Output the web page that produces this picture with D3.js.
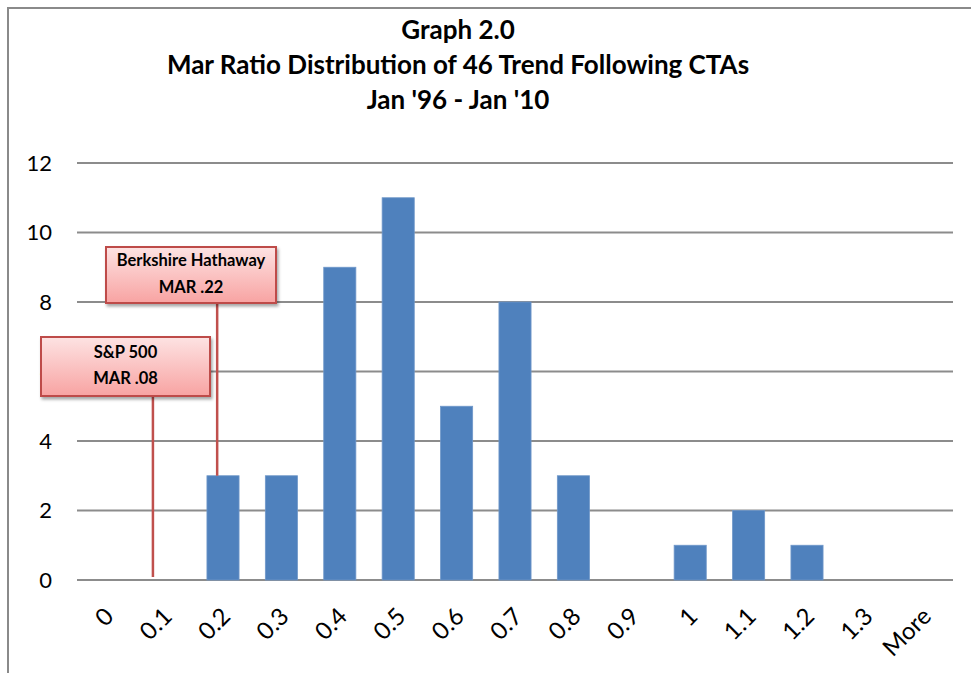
<!DOCTYPE html>
<html>
<head>
<meta charset="utf-8">
<script src="https://cdn.jsdelivr.net/npm/d3@7"></script>
<style>
  body { margin: 0; background: #fff; }
  text { font-family: Lato, "Open Sans", sans-serif; }
</style>
</head>
<body>
<div id="chart"></div>
<script>
const width = 971, height = 673;

// chart data
const categories = ["0", "0.1", "0.2", "0.3", "0.4", "0.5", "0.6", "0.7", "0.8", "0.9", "1", "1.1", "1.2", "1.3", "More"];
const counts = [0, 0, 3, 3, 9, 11, 5, 8, 3, 0, 1, 2, 1, 0, 0];
const yTicks = [0, 2, 4, 6, 8, 10, 12];
const titleLines = ["Graph 2.0", "Mar Ratio Distribution of 46 Trend Following CTAs", "Jan '96 - Jan '10"];

// callouts: pointer is the MAR position on the category axis, target the count it points at
const callouts = [
	{ lines: ["Berkshire Hathaway", "MAR .22"], pointer: 0.19, target: 3 },
	{ lines: ["S&P 500", "MAR .08"], pointer: 0.08, target: 0 }
];

const margin = { top: 163, right: 18, bottom: 93, left: 77 };

const svg = d3.select("#chart")
	.append("svg")
	.attr("width", width)
	.attr("height", height);

const defs = svg.append("defs");

const grad = defs.append("linearGradient")
	.attr("id", "boxGrad")
	.attr("x1", 0).attr("y1", 0).attr("x2", 0).attr("y2", 1);
grad.append("stop").attr("offset", "0%").attr("stop-color", "#fde3e3");
grad.append("stop").attr("offset", "100%").attr("stop-color", "#f8a3a2");

const shadow = defs.append("filter")
	.attr("id", "shadow")
	.attr("x", "-10%").attr("y", "-10%")
	.attr("width", "130%").attr("height", "140%");
shadow.append("feDropShadow")
	.attr("dx", 1.5).attr("dy", 2.5)
	.attr("stdDeviation", 1.5)
	.attr("flood-color", "#000")
	.attr("flood-opacity", 0.35);

// outer frame (cropped at right and bottom like the source)
svg.append("rect")
	.attr("x", 8).attr("y", 8)
	.attr("width", 1000).attr("height", 700)
	.attr("fill", "none")
	.attr("stroke", "#8a8a8a")
	.attr("stroke-width", 2);

const x = d3.scaleBand()
	.domain(categories)
	.range([margin.left, width - margin.right])
	.paddingInner(0.45)
	.paddingOuter(0.225);

const y = d3.scaleLinear()
	.domain([0, 12])
	.range([height - margin.bottom, margin.top]);

// maps a MAR value onto the category axis (0 -> centre of "0", 0.1 -> centre of "0.1")
const step = x.step();
const marX = v => x("0") + x.bandwidth() / 2 + (v / 0.1) * step;

// title
svg.append("g")
	.selectAll("text")
	.data(titleLines)
	.enter()
	.append("text")
	.attr("x", 458)
	.attr("y", (d, i) => 39 + i * 35)
	.attr("text-anchor", "middle")
	.attr("font-size", 26)
	.attr("font-weight", "bold")
	.attr("fill", "#000")
	.text(d => d);

// gridlines
const gridX0 = margin.left, gridX1 = width - margin.right;
svg.append("g")
	.selectAll("line")
	.data(yTicks)
	.enter()
	.append("line")
	.attr("x1", gridX0)
	.attr("x2", gridX1)
	.attr("y1", d => y(d))
	.attr("y2", d => y(d))
	.attr("stroke", "#8c8c8c")
	.attr("stroke-width", 2);

// y tick labels
svg.append("g")
	.selectAll("text")
	.data(yTicks)
	.enter()
	.append("text")
	.attr("x", 52)
	.attr("y", d => y(d))
	.attr("dy", "0.36em")
	.attr("text-anchor", "end")
	.attr("font-size", 22)
	.attr("fill", "#000")
	.text(d => d);

// bars (empty bins draw nothing)
svg.append("g")
	.selectAll("rect")
	.data(categories.map((c, i) => ({ c: c, v: counts[i] })).filter(d => d.v > 0))
	.enter()
	.append("rect")
	.attr("x", d => x(d.c))
	.attr("y", d => y(d.v))
	.attr("width", x.bandwidth())
	.attr("height", d => y(0) - y(d.v))
	.attr("fill", "#4f81bd")
	.attr("stroke", "#6f97c9")
	.attr("stroke-width", 0.8);

// x tick labels, rotated
svg.append("g")
	.selectAll("text")
	.data(categories)
	.enter()
	.append("text")
	.attr("transform", d => "translate(" + (x(d) + x.bandwidth() / 2 - 3) + "," + (y(0) + 26) + ") rotate(-45)")
	.attr("text-anchor", "end")
	.attr("dy", "0.7em")
	.attr("font-size", 24)
	.attr("fill", "#000")
	.text(d => d);

// callout pointer lines
svg.append("g")
	.selectAll("line")
	.data(callouts)
	.enter()
	.append("line")
	.attr("x1", d => marX(d.pointer))
	.attr("x2", d => marX(d.pointer))
	.attr("y1", (d, i) => i === 0 ? 300 : 395)
	.attr("y2", d => d.target > 0 ? y(d.target) : y(0) - 3)
	.attr("stroke", "#c0504d")
	.attr("stroke-width", 2.5);

// callout boxes
const boxDims = [
	{ x: 106, y: 247, w: 170, h: 56 },
	{ x: 41, y: 337, w: 169, h: 59 }
];

const boxes = svg.append("g")
	.selectAll("g")
	.data(callouts)
	.enter()
	.append("g")
	.attr("transform", (d, i) => "translate(" + boxDims[i].x + "," + boxDims[i].y + ")");

boxes.append("rect")
	.attr("width", (d, i) => boxDims[i].w)
	.attr("height", (d, i) => boxDims[i].h)
	.attr("fill", "url(#boxGrad)")
	.attr("stroke", "#be4b48")
	.attr("stroke-width", 2)
	.attr("filter", "url(#shadow)");

boxes.each(function(d, i) {
	const g = d3.select(this);
	g.selectAll("text")
		.data(d.lines)
		.enter()
		.append("text")
		.attr("x", boxDims[i].w / 2)
		.attr("y", (t, j) => (i === 0 ? 19 : 21) + j * (i === 0 ? 27 : 26))
		.attr("text-anchor", "middle")
		.attr("font-size", 16.5)
		.attr("font-weight", "bold")
		.attr("fill", "#000")
		.text(t => t);
});
</script>
</body>
</html>
